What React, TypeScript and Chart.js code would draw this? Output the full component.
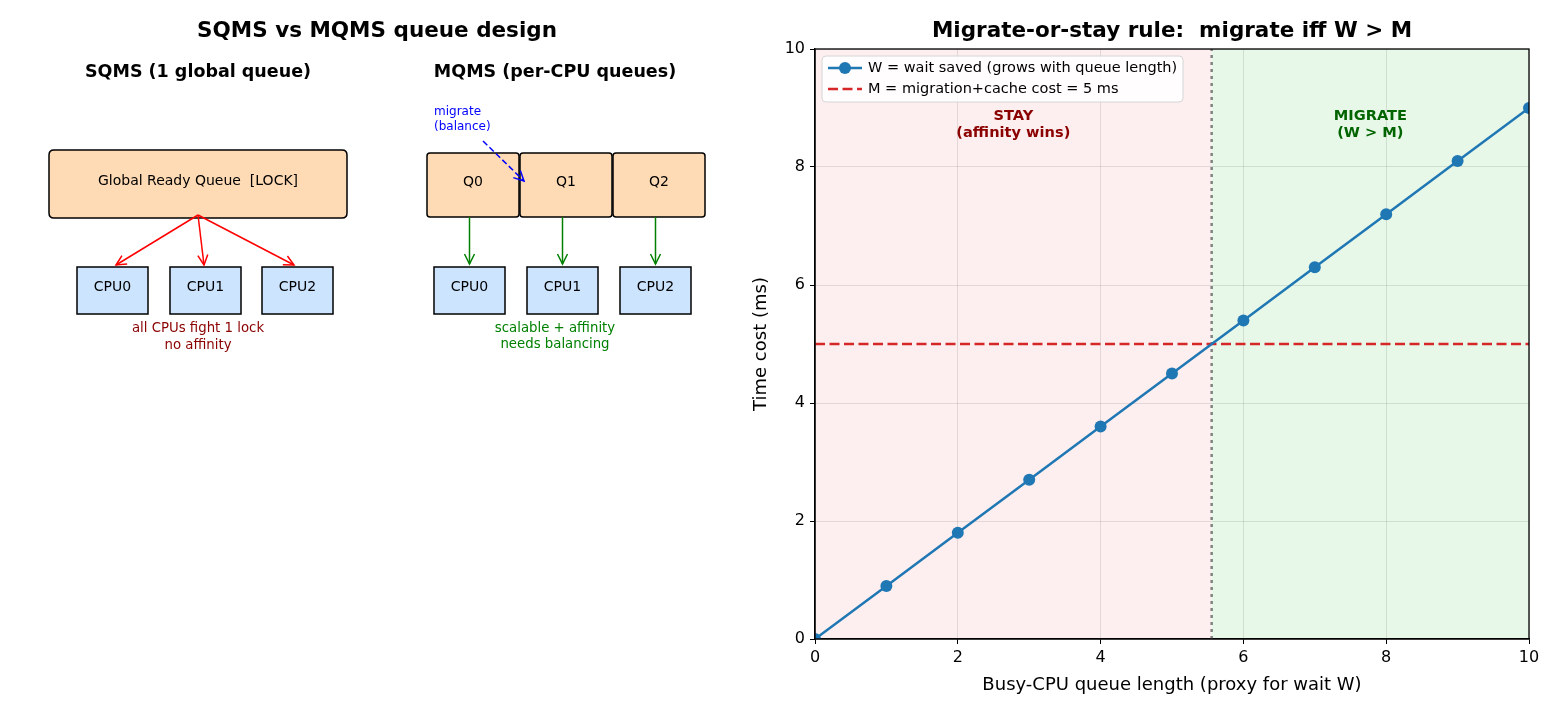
import React, { useEffect, useRef } from "react";
import { Chart, registerables } from "chart.js";

Chart.register(...registerables);

// ---- data ----
const queueLen = [0, 1, 2, 3, 4, 5, 6, 7, 8, 9, 10];
const wSaved = [0, 0.9, 1.8, 2.7, 3.6, 4.5, 5.4, 6.3, 7.2, 8.1, 9.0];
const costM = 5;
const axisMin = 0;
const axisMax = 10;
const tickStep = 2;
const cpuNames = ["CPU0", "CPU1", "CPU2"];
const queueNames = ["Q0", "Q1", "Q2"];

// break-even queue length where W reaches M
const slope = wSaved[wSaved.length - 1] / queueLen[queueLen.length - 1];
const breakEven = costM / slope;

const FONT = '"DejaVu Sans", "Noto Sans", sans-serif';
const PEACH = "#fedab5";
const LIGHT_BLUE = "#cce4fe";

// ---- diagram layout (left canvas units) ----
const sqmsCpuX = [77, 170, 262];
const mqmsCpuX = [434, 527, 620];
const mqmsQueueX = [427, 520, 613];
const cpuBox = { y: 267, w: 71, h: 47 };
const queueBox = { y: 153, w: 92, h: 64 };
const globalBox = { x: 49, y: 150, w: 298, h: 68 };

function roundRect(ctx: CanvasRenderingContext2D, x: number, y: number, w: number, h: number, r: number) {
  ctx.beginPath();
  ctx.moveTo(x + r, y);
  ctx.lineTo(x + w - r, y);
  ctx.quadraticCurveTo(x + w, y, x + w, y + r);
  ctx.lineTo(x + w, y + h - r);
  ctx.quadraticCurveTo(x + w, y + h, x + w - r, y + h);
  ctx.lineTo(x + r, y + h);
  ctx.quadraticCurveTo(x, y + h, x, y + h - r);
  ctx.lineTo(x, y + r);
  ctx.quadraticCurveTo(x, y, x + r, y);
  ctx.closePath();
}

function box(ctx: CanvasRenderingContext2D, x: number, y: number, w: number, h: number, r: number, fill: string, label: string) {
  ctx.save();
  roundRect(ctx, x, y, w, h, r);
  ctx.fillStyle = fill;
  ctx.fill();
  ctx.lineWidth = 1.5;
  ctx.strokeStyle = "#000";
  ctx.stroke();
  ctx.fillStyle = "#000";
  ctx.font = `14px ${FONT}`;
  ctx.textAlign = "center";
  ctx.textBaseline = "middle";
  ctx.fillText(label, x + w / 2, y + h / 2 - 3);
  ctx.restore();
}

function arrow(ctx: CanvasRenderingContext2D, x1: number, y1: number, x2: number, y2: number, color: string, dash: number[] = []) {
  ctx.save();
  ctx.strokeStyle = color;
  ctx.lineWidth = 1.5;
  ctx.setLineDash(dash);
  ctx.beginPath();
  ctx.moveTo(x1, y1);
  ctx.lineTo(x2, y2);
  ctx.stroke();
  ctx.setLineDash([]);
  const a = Math.atan2(y2 - y1, x2 - x1);
  const L = 10;
  const W = 5;
  ctx.beginPath();
  ctx.moveTo(x2 - L * Math.cos(a) + W * Math.sin(a), y2 - L * Math.sin(a) - W * Math.cos(a));
  ctx.lineTo(x2, y2);
  ctx.lineTo(x2 - L * Math.cos(a) - W * Math.sin(a), y2 - L * Math.sin(a) + W * Math.cos(a));
  ctx.stroke();
  ctx.restore();
}

function text(ctx: CanvasRenderingContext2D, s: string, x: number, y: number, font: string, color: string, align: CanvasTextAlign = "center") {
  ctx.save();
  ctx.font = font;
  ctx.fillStyle = color;
  ctx.textAlign = align;
  ctx.textBaseline = "middle";
  ctx.fillText(s, x, y);
  ctx.restore();
}

const diagramPlugin = {
  id: "queueDiagram",
  afterDraw(chart: any) {
    const ctx: CanvasRenderingContext2D = chart.ctx;
    const sx = chart.scales.x;
    const sy = chart.scales.y;
    const X = (v: number) => sx.getPixelForValue(v);
    const Y = (v: number) => sy.getPixelForValue(v);

    text(ctx, "SQMS vs MQMS queue design", X(377), Y(31), `bold 21.5px ${FONT}`, "#000");
    text(ctx, "SQMS (1 global queue)", X(198), Y(72), `bold 17.5px ${FONT}`, "#000");
    text(ctx, "MQMS (per-CPU queues)", X(555), Y(72), `bold 17.5px ${FONT}`, "#000");

    // single shared queue
    box(ctx, X(globalBox.x), Y(globalBox.y), globalBox.w, globalBox.h, 5, PEACH, "Global Ready Queue  [LOCK]");
    cpuNames.forEach((name, i) => {
      box(ctx, X(sqmsCpuX[i]), Y(cpuBox.y), cpuBox.w, cpuBox.h, 0, LIGHT_BLUE, name);
      const cx = sqmsCpuX[i] + cpuBox.w / 2 - (i - 1) * 3.5 - (i === 1 ? 1.5 : 0);
      arrow(ctx, X(198), Y(215), X(cx), Y(cpuBox.y - 2), "#ff0000");
    });
    text(ctx, "all CPUs fight 1 lock", X(198), Y(329), `13.3px ${FONT}`, "#8b0000");
    text(ctx, "no affinity", X(198), Y(346), `13.3px ${FONT}`, "#8b0000");

    // per-CPU queues
    queueNames.forEach((name, i) => {
      box(ctx, X(mqmsQueueX[i]), Y(queueBox.y), queueBox.w, queueBox.h, 3, PEACH, name);
    });
    cpuNames.forEach((name, i) => {
      box(ctx, X(mqmsCpuX[i]), Y(cpuBox.y), cpuBox.w, cpuBox.h, 0, LIGHT_BLUE, name);
      const cx = mqmsCpuX[i] + cpuBox.w / 2;
      arrow(ctx, X(cx), Y(queueBox.y + queueBox.h), X(cx), Y(cpuBox.y - 3), "#008000");
    });
    text(ctx, "scalable + affinity", X(555), Y(329), `13.3px ${FONT}`, "#008000");
    text(ctx, "needs balancing", X(555), Y(345), `13.3px ${FONT}`, "#008000");

    text(ctx, "migrate", X(434), Y(112), `12px ${FONT}`, "#0000ff", "left");
    text(ctx, "(balance)", X(434), Y(127), `12px ${FONT}`, "#0000ff", "left");
    arrow(ctx, X(483), Y(141), X(524), Y(181), "#0000ff", [6, 3]);
  },
};

const decorPlugin = {
  id: "ruleDecor",
  beforeDraw(chart: any) {
    const ctx: CanvasRenderingContext2D = chart.ctx;
    const { top, bottom, left, right } = chart.chartArea;
    const xb = chart.scales.x.getPixelForValue(breakEven);
    ctx.save();
    ctx.fillStyle = "#fdefef";
    ctx.fillRect(left, top, xb - left, bottom - top);
    ctx.fillStyle = "#e8f8e8";
    ctx.fillRect(xb, top, right - xb, bottom - top);
    ctx.restore();
  },
  afterDatasetsDraw(chart: any) {
    const ctx: CanvasRenderingContext2D = chart.ctx;
    const { top, bottom, left, right } = chart.chartArea;
    ctx.save();
    ctx.strokeStyle = "#000";
    ctx.lineWidth = 1.3;
    ctx.strokeRect(left, top, right - left, bottom - top);
    ctx.restore();
  },
  afterDraw(chart: any) {
    const ctx: CanvasRenderingContext2D = chart.ctx;
    const { top, left, right } = chart.chartArea;
    const sx = chart.scales.x;
    const sy = chart.scales.y;

    text(ctx, "Migrate-or-stay rule:  migrate iff W > M", (left + right) / 2, 31, `bold 21.5px ${FONT}`, "#000");

    // region labels
    const stayX = sx.getPixelForValue(breakEven / 2);
    const migX = sx.getPixelForValue((breakEven + axisMax) / 2);
    const ly = sy.getPixelForValue(8.72);
    const bf = `bold 14.6px ${FONT}`;
    text(ctx, "STAY", stayX, ly - 8, bf, "#8b0000");
    text(ctx, "(affinity wins)", stayX, ly + 9, bf, "#8b0000");
    text(ctx, "MIGRATE", migX, ly - 8, bf, "#006400");
    text(ctx, "(W > M)", migX, ly + 9, bf, "#006400");

    // legend
    const lx = left + 7;
    const lyTop = top + 7;
    ctx.save();
    roundRect(ctx, lx, lyTop, 361, 46, 4);
    ctx.fillStyle = "rgba(255,255,255,0.85)";
    ctx.fill();
    ctx.strokeStyle = "#d6d6d6";
    ctx.lineWidth = 1;
    ctx.stroke();

    const r1 = lyTop + 12;
    const r2 = lyTop + 33;
    ctx.strokeStyle = "#1f77b4";
    ctx.lineWidth = 2.5;
    ctx.beginPath();
    ctx.moveTo(lx + 6, r1);
    ctx.lineTo(lx + 40, r1);
    ctx.stroke();
    ctx.fillStyle = "#1f77b4";
    ctx.beginPath();
    ctx.arc(lx + 23, r1, 6, 0, Math.PI * 2);
    ctx.fill();

    ctx.strokeStyle = "#d62728";
    ctx.setLineDash([10, 4.5]);
    ctx.beginPath();
    ctx.moveTo(lx + 6, r2);
    ctx.lineTo(lx + 40, r2);
    ctx.stroke();
    ctx.setLineDash([]);
    ctx.restore();

    text(ctx, "W = wait saved (grows with queue length)", lx + 46, r1, `14.5px ${FONT}`, "#000", "left");
    text(ctx, `M = migration+cache cost = ${costM} ms`, lx + 46, r2, `14.5px ${FONT}`, "#000", "left");
  },
};

function DiagramPanel() {
  const ref = useRef<HTMLCanvasElement | null>(null);
  useEffect(() => {
    if (!ref.current) return;
    const chart = new Chart(ref.current, {
      type: "scatter",
      data: { datasets: [] },
      options: {
        responsive: false,
        animation: false,
        events: [],
        layout: { padding: 0 },
        plugins: { legend: { display: false }, tooltip: { enabled: false } },
        scales: {
          x: { type: "linear", min: 0, max: 740, display: false },
          y: { type: "linear", min: 0, max: 715, reverse: true, display: false },
        },
      },
      plugins: [diagramPlugin],
    });
    return () => chart.destroy();
  }, []);
  return <canvas ref={ref} width={740} height={715} style={{ position: "absolute", left: 0, top: 0, width: 740, height: 715 }} />;
}

function RulePanel() {
  const ref = useRef<HTMLCanvasElement | null>(null);
  useEffect(() => {
    if (!ref.current) return;
    const tickFont = { family: FONT, size: 16 };
    const titleFont = { family: FONT, size: 18 };
    const chart = new Chart(ref.current, {
      type: "line",
      data: {
        datasets: [
          {
            label: "W = wait saved (grows with queue length)",
            data: queueLen.map((x, i) => ({ x, y: wSaved[i] })),
            borderColor: "#1f77b4",
            backgroundColor: "#1f77b4",
            borderWidth: 2.5,
            pointRadius: 6,
            pointBorderWidth: 0,
            pointBackgroundColor: "#1f77b4",
            clip: 0,
          },
          {
            label: "M = migration+cache cost",
            data: [
              { x: axisMin, y: costM },
              { x: axisMax, y: costM },
            ],
            borderColor: "#d62728",
            borderWidth: 2.5,
            borderDash: [10, 4.5],
            pointRadius: 0,
          },
          {
            label: "break-even",
            data: [
              { x: breakEven, y: axisMin },
              { x: breakEven, y: axisMax },
            ],
            borderColor: "rgba(110,110,110,0.85)",
            borderWidth: 2.5,
            borderDash: [3, 4],
            pointRadius: 0,
          },
        ],
      },
      options: {
        responsive: false,
        animation: false,
        events: [],
        layout: { padding: { left: 7, right: 31, top: 49, bottom: 15 } },
        plugins: { legend: { display: false }, tooltip: { enabled: false } },
        scales: {
          x: {
            type: "linear",
            min: axisMin,
            max: axisMax,
            ticks: { stepSize: tickStep, color: "#000", font: tickFont, padding: 4 },
            grid: { color: "rgba(0,0,0,0.1)", tickColor: "#000", tickLength: 5 },
            border: { display: true, color: "#000", width: 1.3 },
            title: { display: true, text: "Busy-CPU queue length (proxy for wait W)", color: "#000", font: titleFont, padding: { top: 4, bottom: 4 } },
            afterFit: (s: any) => {
              s.height = 61;
            },
          },
          y: {
            type: "linear",
            min: axisMin,
            max: axisMax,
            ticks: { stepSize: tickStep, color: "#000", font: tickFont, padding: 5 },
            grid: { color: "rgba(0,0,0,0.1)", tickColor: "#000", tickLength: 5 },
            border: { display: true, color: "#000", width: 1.3 },
            title: { display: true, text: "Time cost (ms)", color: "#000", font: titleFont, padding: { top: 4, bottom: 4 } },
            afterFit: (s: any) => {
              s.width = 68;
            },
          },
        },
      },
      plugins: [decorPlugin],
    });
    return () => chart.destroy();
  }, []);
  return <canvas ref={ref} width={820} height={715} style={{ position: "absolute", left: 740, top: 0, width: 820, height: 715 }} />;
}

export default function App() {
  return (
    <div style={{ position: "absolute", left: 0, top: 0, width: 1560, height: 715, background: "#fff", overflow: "hidden" }}>
      <DiagramPanel />
      <RulePanel />
    </div>
  );
}
